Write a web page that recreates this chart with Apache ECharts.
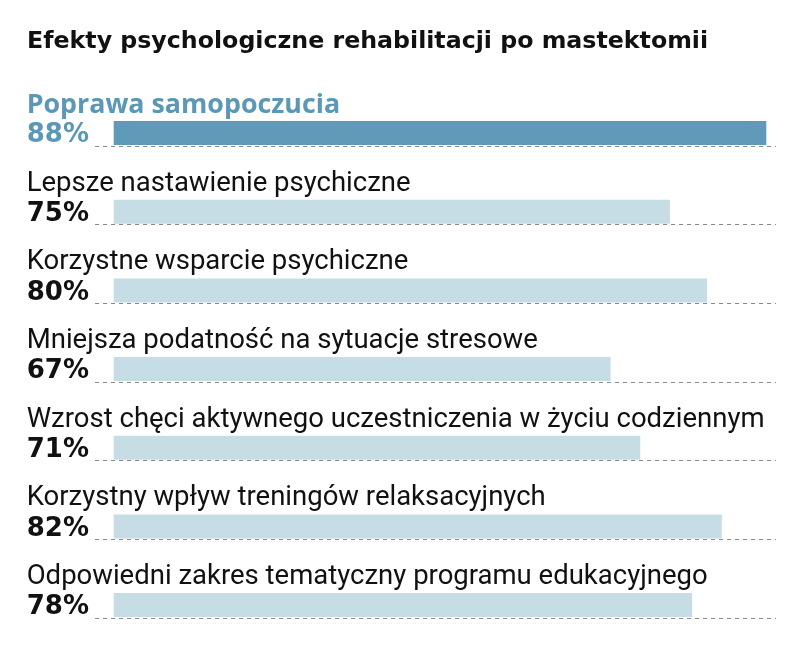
<!DOCTYPE html>
<html>
<head>
<meta charset="utf-8">
<script src="https://cdn.jsdelivr.net/npm/echarts@6/dist/echarts.min.js"></script>
<style>
html,body{margin:0;padding:0;background:#fff;}
#chart{width:788px;height:654px;}
</style>
</head>
<body>
<div id="chart"></div>
<script>
const titleText = 'Efekty psychologiczne rehabilitacji po mastektomii';
const categories = [
  'Poprawa samopoczucia',
  'Lepsze nastawienie psychiczne',
  'Korzystne wsparcie psychiczne',
  'Mniejsza podatność na sytuacje stresowe',
  'Wzrost chęci aktywnego uczestniczenia w życiu codziennym',
  'Korzystny wpływ treningów relaksacyjnych',
  'Odpowiedni zakres tematyczny programu edukacyjnego'
];
const values = [88, 75, 80, 67, 71, 82, 78];
const highlightIndex = 0;

const DARK = '#5f9ab9';
const LIGHT = '#c6dde6';
const TEXT_HL = '#5b97b6';
const FONT = 'Roboto, "Liberation Sans", sans-serif';
const FONT_BOLD = '"DejaVu Sans", Roboto, sans-serif';
const FONT_HL = '"Open Sans", Roboto, sans-serif';

const chart = echarts.init(document.getElementById('chart'), null, {renderer: 'canvas'});

const barData = values.map((v, i) => ({
  value: v,
  itemStyle: {color: i === highlightIndex ? DARK : LIGHT}
}));

const option = {
  animation: false,
  backgroundColor: '#fff',
  title: {
    text: titleText,
    left: 22,
    top: 25,
    textStyle: {fontFamily: FONT_BOLD, fontSize: 23.7, fontWeight: 'bold', color: '#111'}
  },
  grid: {left: 113.7, top: 93.7, width: 741.6, height: 550.7, containLabel: false, outerBoundsMode: 'none'},
  xAxis: {type: 'value', min: 0, max: 100, show: false},
  yAxis: {
    type: 'category', data: categories, inverse: true, show: false
  },
  series: [
    {
      type: 'custom',
      z: 3,
      silent: true,
      clip: false,
      data: values.map((v, i) => [v, i]),
      encode: {x: 0, y: 1},
      renderItem: function (params, api) {
        const c = api.coord([0, api.value(1)]);
        const y = Math.round(c[1] + 12.5) + 0.5;
        return {
          type: 'line',
          shape: {x1: 95, y1: y, x2: 776, y2: y},
          style: {stroke: '#8a8a8a', lineWidth: 1, lineDash: [4, 4]}
        };
      }
    },
    {
      type: 'bar',
      z: 2,
      barWidth: 24,
      data: barData,
      label: {
        show: true,
        position: [-87, -31.5],
        align: 'left',
        verticalAlign: 'top',
        formatter: function (p) {
          const hl = p.dataIndex === highlightIndex;
          return (hl ? '{ch|' : '{c|') + p.name + '}\n' + (hl ? '{vh|' : '{v|') + p.value + '%}';
        },
        rich: {
          c: {fontFamily: FONT, fontSize: 27.5, lineHeight: 31, color: '#111', fontWeight: 'normal'},
          ch: {fontFamily: FONT_HL, fontSize: 26.8, lineHeight: 31, color: TEXT_HL, fontWeight: 'bold'},
          v: {fontFamily: FONT_BOLD, fontSize: 26, lineHeight: 30, color: '#111', fontWeight: 'bold'},
          vh: {fontFamily: FONT_BOLD, fontSize: 26, lineHeight: 30, color: TEXT_HL, fontWeight: 'bold'}
        }
      }
    }
  ]
};
chart.setOption(option);
</script>
</body>
</html>
